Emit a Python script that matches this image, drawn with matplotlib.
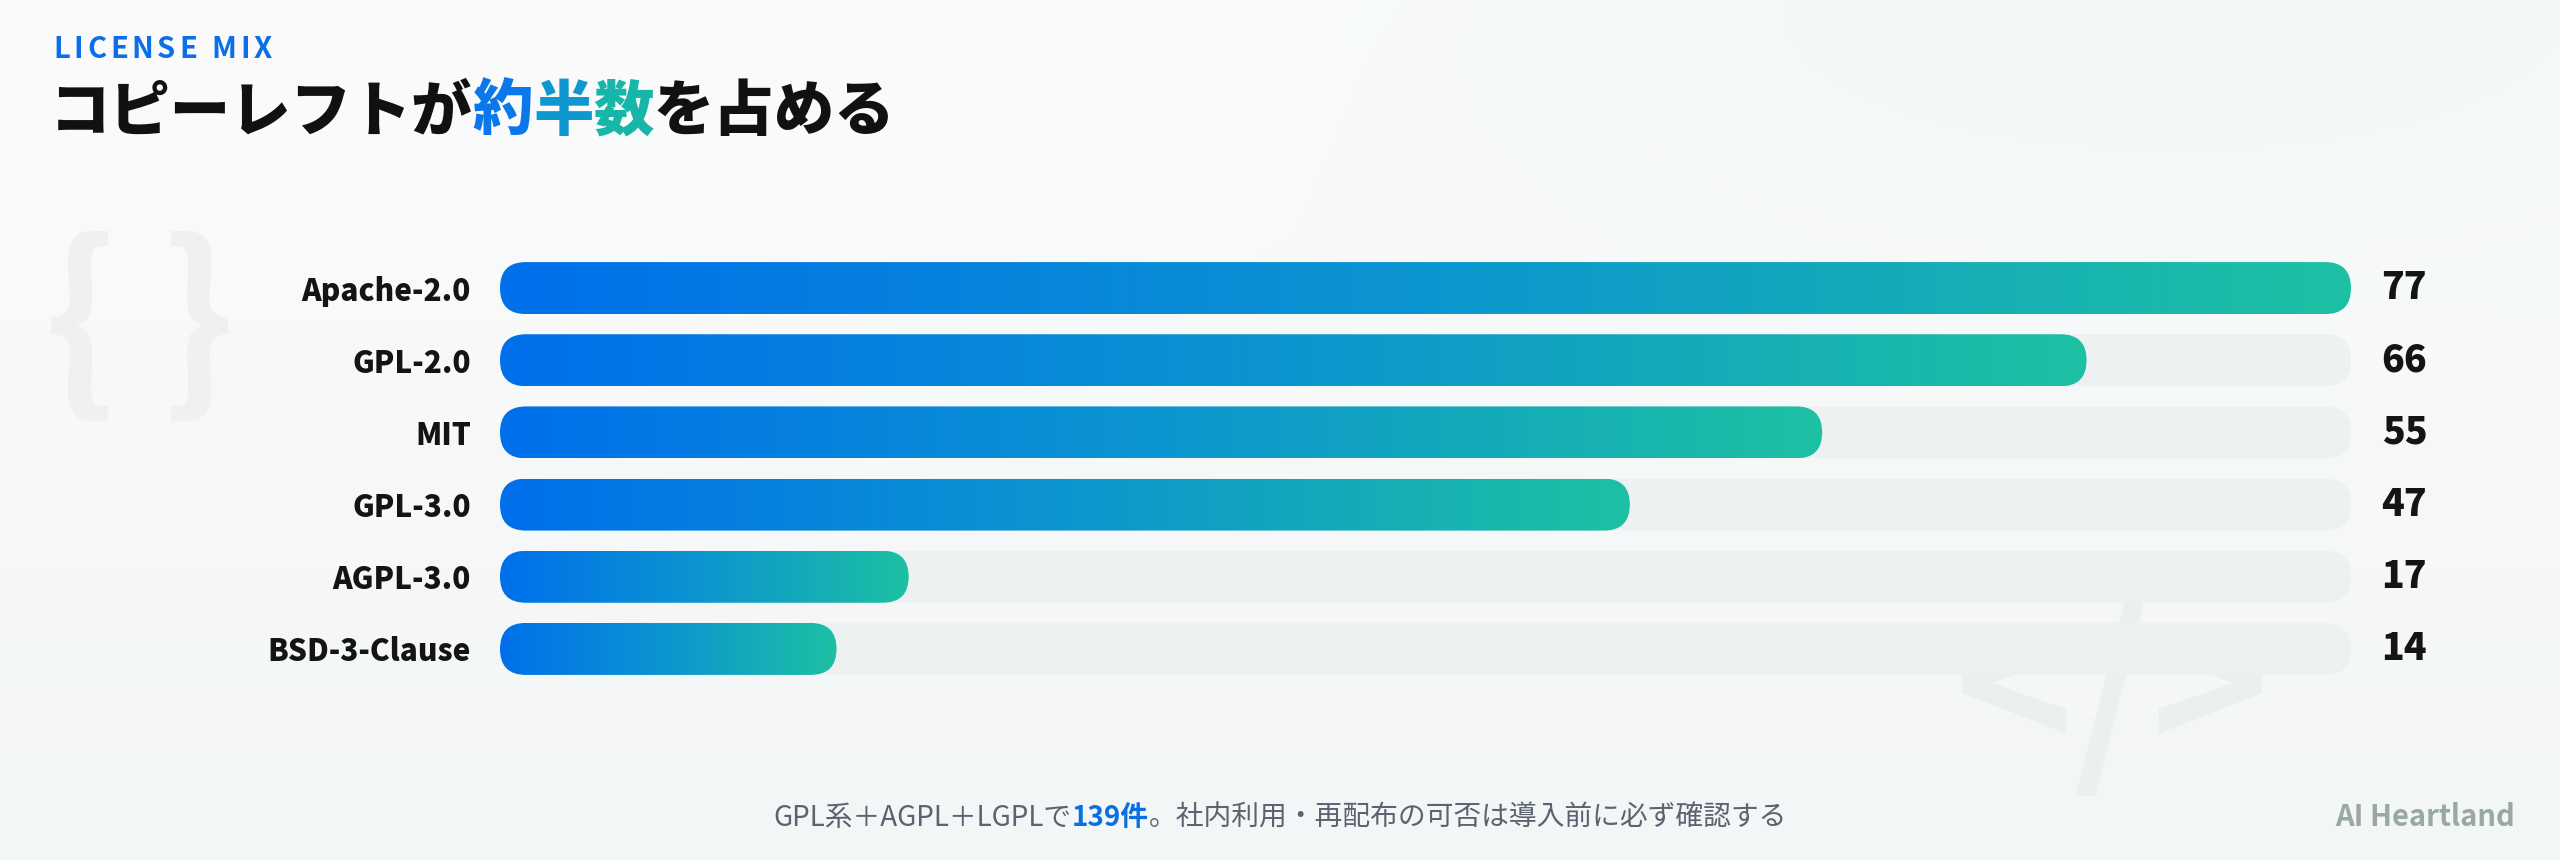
"""
License mix bar chart: rounded gradient bars on light tracks, with
a mixed-colour Japanese title and a footer note.
"""

import numpy as np
import matplotlib
matplotlib.use("Agg")
import matplotlib.pyplot as plt
from matplotlib.patches import FancyBboxPatch
from matplotlib.colors import LinearSegmentedColormap, to_rgb

# ---- data -------------------------------------------------------------
licenses = ["Apache-2.0", "GPL-2.0", "MIT", "GPL-3.0", "AGPL-3.0", "BSD-3-Clause"]
counts = [77, 66, 55, 47, 17, 14]

kicker = "LICENSE MIX"
title_parts = ["コピーレフトが", "約", "半", "数", "を占める"]
footer_parts = ["GPL系＋AGPL＋LGPLで", "139件", "。社内利用・再配布の可否は導入前に必ず確認する"]
brand = "AI Heartland"

# ---- style ------------------------------------------------------------
FONT = ["Noto Sans CJK JP", "DejaVu Sans"]
plt.rcParams["font.family"] = FONT

W, H = 2560, 860
BLUE = "#0070EB"
TEAL = "#1DC0A3"
TRACK = "#EEF1F2"
INK = "#141414"
bar_cmap = LinearSegmentedColormap.from_list("bar", [BLUE, "#0C96D0", TEAL])

fig = plt.figure(figsize=(W / 100, H / 100), dpi=100)

# background: near-white with a faint mint glow at the top right
bg = fig.add_axes([0, 0, 1, 1], zorder=-10)
yy, xx = np.mgrid[0:1:172j, 0:1:512j]
top = np.array(to_rgb("#FBFBFC"))
bot = np.array(to_rgb("#F3F6F6"))
img = top[None, None, :] * (1 - yy[..., None]) + bot[None, None, :] * yy[..., None]
glow = np.exp(-(((xx - 0.85) / 0.3) ** 2 + ((yy - 0.0) / 0.3) ** 2))
mint = np.array(to_rgb("#F1F8F6"))
img = img * (1 - 0.9 * glow[..., None]) + mint * 0.9 * glow[..., None]
bg.imshow(img, aspect="auto", extent=(0, 1, 0, 1), interpolation="bilinear")
bg.set_axis_off()

# decorative glyphs
fig.text(140 / W, 1 - 330 / H, "{ }", fontsize=140, fontweight="bold",
         color="#EEF0F1", ha="center", va="center", zorder=-5)
fig.text(2112 / W, 1 - 700 / H, "</>", fontsize=145, fontweight="bold",
         color="#ECEFF0", ha="center", va="center", zorder=-5)

# ---- bars -------------------------------------------------------------
ax_l, ax_r = 500, 2351
ax_t, ax_b = 252, 685
ax = fig.add_axes([ax_l / W, 1 - ax_b / H, (ax_r - ax_l) / W, (ax_b - ax_t) / H])
ax.patch.set_alpha(0)
vmax = max(counts)
n = len(licenses)
px_x = (ax_r - ax_l) / vmax
px_y = (ax_b - ax_t) / n
bar_h = 52 / px_y
radius = 26 / px_x
aspect = px_x / px_y

for i, (lab, v) in enumerate(zip(licenses, counts)):
    track = FancyBboxPatch((0, i - bar_h / 2), vmax, bar_h,
                           boxstyle=f"round,pad=0,rounding_size={radius}",
                           mutation_aspect=aspect, fc=TRACK, ec="none", zorder=1)
    ax.add_patch(track)
    bar = FancyBboxPatch((0, i - bar_h / 2), v, bar_h,
                         boxstyle=f"round,pad=0,rounding_size={radius}",
                         mutation_aspect=aspect, fc="none", ec="none", zorder=2)
    ax.add_patch(bar)
    grad = ax.imshow(np.linspace(0, 1, 256).reshape(1, -1), cmap=bar_cmap,
                     extent=(0, v, i + bar_h / 2, i - bar_h / 2),
                     aspect="auto", interpolation="bilinear", zorder=2)
    grad.set_clip_path(bar)
    ax.annotate(str(v), xy=(vmax, i), xytext=(22, 0), textcoords="offset points",
                ha="left", va="center", fontsize=27, fontweight="heavy", color=INK)

ax.set_xlim(0, vmax)
ax.set_ylim(n - 0.5, -0.5)
ax.set_yticks(range(n))
ax.set_yticklabels(licenses, fontsize=21.5, fontweight="heavy", color=INK)
ax.tick_params(axis="y", length=0, pad=21)
ax.set_xticks([])
for s in ax.spines.values():
    s.set_visible(False)

# ---- header / footer --------------------------------------------------
fig.canvas.draw()
renderer = fig.canvas.get_renderer()

# letter-spaced kicker
x = 53
for ch in kicker:
    t = fig.text(x / W, 1 - 58 / H, ch, fontsize=21, fontweight="bold",
                 color="#0A6FE8", ha="left", va="baseline")
    x = t.get_window_extent(renderer).x1 + 3.8

# title with gradient-coloured emphasis
title_colors = ["#111111", "#0A78EA", "#0F98CF", "#18B6A9", "#111111"]
x = 50
for part, c in zip(title_parts, title_colors):
    t = fig.text(x / W, 1 - 130 / H, part, fontsize=43.5, fontweight="heavy",
                 color=c, ha="left", va="baseline")
    x = t.get_window_extent(renderer).x1

# footer, centred as a whole
foot_styles = [("#5B6270", "normal"), ("#0A6FE0", "bold"), ("#5B6270", "normal")]
texts = []
for part, (c, w) in zip(footer_parts, foot_styles):
    texts.append(fig.text(0, 1 - 826 / H, part, fontsize=20, fontweight=w,
                          color=c, ha="left", va="baseline"))
widths = [t.get_window_extent(renderer).width for t in texts]
x = 1280 - sum(widths) / 2
for t, w in zip(texts, widths):
    t.set_x(x / W)
    x += w

fig.text(2515 / W, 1 - 826 / H, brand, fontsize=21, fontweight="bold",
         color="#9AA8A4", ha="right", va="baseline")

fig.savefig("out.png", dpi=100)
plt.close(fig)
